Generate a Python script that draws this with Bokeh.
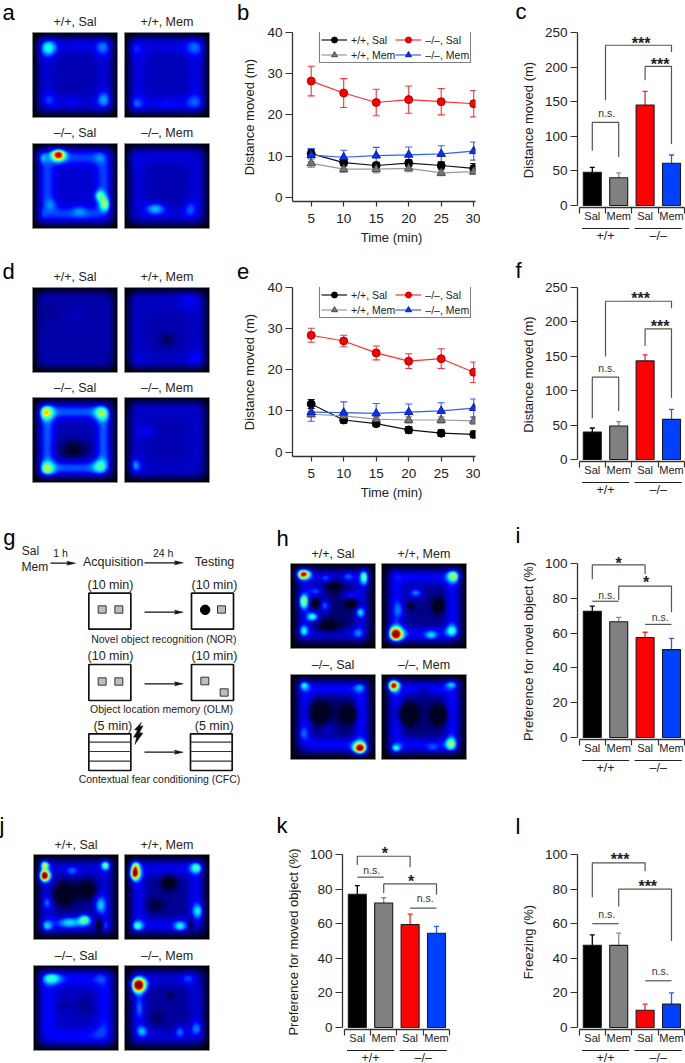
import numpy as np
from bokeh.embed import file_html
from bokeh.resources import INLINE
from bokeh.core.properties import value
from bokeh.layouts import column, row
from bokeh.models import (FixedTicker, LinearAxis, LinearColorMapper, Range1d, Whisker, TeeHead,
                          ColumnDataSource, Legend, LegendItem)
from bokeh.plotting import figure

FONT = "Liberation Sans"
INK = "#222222"
AXIS = "#333333"

# ---------- line chart data ----------
TIME = [5, 10, 15, 20, 25, 30]
B_WT_SAL = [10.6, 8.4, 7.7, 8.3, 7.7, 7.0]
B_WT_SAL_E = [1.0, 0.8, 0.8, 0.8, 0.9, 1.2]
B_WT_MEM = [8.2, 6.8, 6.8, 7.0, 5.9, 6.2]
B_WT_MEM_E = [1.0, 0.8, 0.9, 0.8, 0.7, 0.7]
B_KO_SAL = [28.2, 25.3, 23.0, 23.7, 23.2, 22.7]
B_KO_SAL_E = [3.6, 3.5, 3.2, 3.3, 3.2, 3.2]
B_KO_MEM = [10.2, 9.7, 10.1, 10.3, 10.5, 11.2]
B_KO_MEM_E = [1.6, 1.7, 2.0, 1.9, 2.0, 2.2]

E_WT_SAL = [11.7, 7.8, 6.9, 5.4, 4.6, 4.3]
E_WT_SAL_E = [1.1, 0.8, 0.6, 0.8, 0.8, 0.8]
E_WT_MEM = [9.2, 8.8, 8.0, 7.8, 7.8, 7.6]
E_WT_MEM_E = [0.7, 0.7, 0.7, 0.8, 0.8, 0.9]
E_KO_SAL = [28.4, 27.0, 24.1, 22.1, 22.7, 19.4]
E_KO_SAL_E = [1.7, 1.4, 1.7, 1.8, 2.4, 2.5]
E_KO_MEM = [9.7, 9.6, 9.4, 9.7, 10.0, 10.7]
E_KO_MEM_E = [2.2, 2.6, 2.4, 2.0, 2.0, 2.2]

# ---------- bar chart data ----------
BAR_LABELS = ["Sal", "Mem", "Sal", "Mem"]
GROUP_LABELS = ["+/+", "–/–"]
C_VALUES = [48, 40, 145, 61]
C_TOPS = [55, 47, 165, 73]
F_VALUES = [40, 48.7, 143.3, 58.4]
F_TOPS = [45.8, 55, 152, 72.9]
I_VALUES = [72.5, 66.5, 57.5, 50.5]
I_TOPS = [75.5, 69, 60.5, 57]
K_VALUES = [77, 72, 59.5, 54.5]
K_TOPS = [82, 75, 65.5, 58.5]
L_VALUES = [47.5, 47.5, 10, 13.5]
L_TOPS = [53.5, 54.5, 13.5, 20]

# brackets: x (bar units) and y (axis units) polylines, then notes (x, y, text)
C_BRACKETS = [([1.0, 1.0, 3.5, 3.5], [152, 231.6, 231.6, 222]),
              ([2.5, 2.5, 3.5, 3.5], [181, 201, 201, 89]),
              ([0.5, 0.5, 1.5, 1.5], [79, 120, 120, 70])]
C_NOTES = [(2.35, 239, "***"), (3.07, 208, "***"), (1.05, 133, "n.s.")]
F_BRACKETS = [([1.0, 1.0, 3.5, 3.5], [149.6, 230, 230, 220]),
              ([2.5, 2.5, 3.5, 3.5], [165, 190, 190, 89.8]),
              ([0.5, 0.5, 1.5, 1.5], [60, 119.7, 119.7, 70.5])]
F_NOTES = [(2.33, 239, "***"), (3.07, 198, "***"), (1.05, 133.7, "n.s.")]
I_BRACKETS = [([0.5, 0.5, 2.5, 2.5], [90.9, 99.2, 99.2, 94]),
              ([1.5, 1.5, 3.5, 3.5], [79, 87, 87, 72]),
              ([0.5, 1.5], [78.3, 78.3]),
              ([2.5, 3.5], [65, 65])]
I_NOTES = [(1.5, 102, "*"), (2.54, 90.8, "*"), (1.05, 82, "n.s."), (3.07, 69, "n.s.")]
K_BRACKETS = [([0.5, 0.5, 2.5, 2.5], [94, 99, 99, 92.7]),
              ([1.5, 1.5, 3.5, 3.5], [77.8, 83, 83, 76.8]),
              ([0.5, 1.5], [86.9, 86.9]),
              ([2.5, 3.5], [69, 69])]
K_NOTES = [(1.54, 102.3, "*"), (2.54, 86.3, "*"), (1.05, 91, "n.s."), (3.07, 74.7, "n.s.")]
L_BRACKETS = [([0.5, 0.5, 2.5, 2.5], [75.3, 95.2, 95.2, 90.3]),
              ([1.5, 1.5, 3.5, 3.5], [69.9, 80, 80, 50]),
              ([0.5, 1.5], [60, 60]),
              ([2.5, 3.5], [27, 27])]
L_NOTES = [(1.55, 98.8, "***"), (2.6, 83, "***"), (1.05, 65.6, "n.s."), (3.07, 32.4, "n.s.")]

BAR_COLORS = ["#000000", "#808080", "#ff0000", "#0040ff"]
ERR_COLORS = ["#000000", "#8c8c8c", "#ff2020", "#2060ff"]

# ---------- occupancy maps: level inside the arena, level of the wall track, hot/cold spots
# spot = (u, v, amount, spread_u, spread_v) read from each map
HEAT_TITLES = ["+/+, Sal", "+/+, Mem", "–/–, Sal", "–/–, Mem"]
A_MAPS = [
    (.20, .04, [(.18, .18, .30, .07, .07), (.83, .17, .17, .07, .07), (.19, .80, .11, .06, .06),
                (.47, .80, .05, .07, .05), (.84, .80, .20, .06, .07), (.55, .15, .04, .08, .05)]),
    (.21, .05, [(.12, .18, .09, .06, .07), (.83, .17, .14, .08, .07), (.12, .85, .15, .07, .06),
                (.83, .83, .13, .08, .07), (.50, .85, .05, .1, .05)]),
    (.24, .11, [(.30, .13, .62, .055, .05), (.10, .16, .18, .05, .05), (.80, .16, .08, .05, .05),
                (.79, .62, .26, .04, .045), (.85, .72, .30, .04, .055), (.22, .72, .08, .05, .05),
                (.55, .80, .08, .06, .05), (.10, .85, .08, .05, .05)]),
    (.20, .05, [(.36, .77, .22, .08, .05), (.77, .78, .13, .05, .07), (.10, .18, .05, .06, .06)]),
]
D_MAPS = [
    (.19, .00, [(.20, .30, -.03, .1, .08), (.52, .33, .03, .06, .06)]),
    (.20, .02, [(.75, .15, .07, .09, .09), (.85, .85, .09, .08, .08), (.15, .87, .05, .08, .07),
                (.50, .62, -.10, .07, .06)]),
    (.20, .17, [(.15, .17, .42, .06, .06), (.82, .18, .30, .06, .06), (.16, .85, .36, .06, .06),
                (.80, .82, .22, .06, .06), (.48, .62, -.17, .12, .08)]),
    (.20, .03, [(.27, .40, .08, .07, .05), (.12, .81, .20, .05, .06)]),
]
H_MAPS = [
    (.12, .12, [(.14, .12, .80, .06, .045), (.87, .15, .42, .04, .07), (.15, .45, .42, .04, .06),
                (.26, .63, .38, .05, .04), (.40, .50, .25, .04, .06), (.30, .33, .22, .06, .04),
                (.15, .80, .30, .04, .05), (.82, .58, .25, .04, .04), (.70, .38, .20, .06, .04),
                (.80, .83, .18, .05, .05), (.68, .15, .14, .05, .04), (.42, .18, .14, .05, .04),
                (.28, .47, -.25, .035, .035), (.72, .47, -.25, .045, .04), (.50, .25, -.17, .07, .05),
                (.45, .75, -.17, .10, .05)]),
    (.15, .14, [(.85, .14, .45, .055, .055), (.16, .84, .80, .06, .06), (.40, .35, .25, .06, .04),
                (.16, .13, .08, .05, .05), (.58, .85, .20, .05, .04), (.83, .80, .28, .05, .05),
                (.20, .55, .12, .05, .07), (.34, .51, -.15, .03, .03), (.67, .50, -.25, .05, .06)]),
    (.13, .17, [(.15, .12, .32, .045, .045), (.82, .15, .18, .05, .04), (.82, .88, .80, .055, .055),
                (.45, .65, .10, .06, .05), (.14, .70, .10, .04, .05), (.33, .45, -.28, .085, .08),
                (.68, .47, -.28, .065, .07)]),
    (.13, .17, [(.13, .12, .80, .05, .05), (.83, .11, .27, .055, .04), (.82, .83, .38, .045, .055),
                (.16, .88, .32, .045, .04), (.60, .88, .10, .05, .04), (.30, .47, -.28, .08, .08),
                (.68, .48, -.28, .065, .07), (.50, .20, -.10, .05, .03), (.24, .17, -.05, .03, .03)]),
]
J_MAPS = [
    (.15, .10, [(.12, .25, .85, .045, .045), (.12, .12, .55, .04, .04), (.85, .12, .42, .04, .045),
                (.45, .20, .15, .05, .04), (.15, .57, .14, .04, .05), (.15, .85, .26, .05, .05),
                (.42, .80, .24, .10, .05), (.60, .77, .36, .05, .045), (.78, .60, .24, .05, .08),
                (.85, .85, .14, .04, .05), (.35, .47, -.30, .08, .08), (.62, .42, -.20, .08, .07),
                (.77, .83, -.28, .03, .06)]),
    (.16, .12, [(.11, .22, .80, .045, .055), (.12, .12, .38, .04, .04), (.85, .15, .34, .055, .05),
                (.14, .85, .34, .05, .045), (.65, .85, .24, .05, .045), (.87, .67, .24, .05, .06),
                (.52, .33, -.22, .06, .06), (.35, .60, -.10, .08, .06), (.78, .82, -.22, .02, .06)]),
    (.22, .08, [(.20, .15, .28, .08, .05), (.80, .15, .08, .06, .05), (.80, .80, .06, .08, .08),
                (.35, .47, -.06, .05, .03), (.60, .47, -.07, .08, .08)]),
    (.17, .07, [(.16, .23, .85, .06, .06), (.17, .50, .14, .04, .10), (.20, .78, .22, .05, .05),
                (.65, .78, .17, .04, .05), (.85, .75, .17, .05, .06), (.75, .15, .12, .06, .05),
                (.54, .35, -.10, .03, .03), (.38, .62, -.07, .05, .05)]),
]

STOPS = [(0, (0, 0, 0)), (.15, (0, 0, 140)), (.30, (0, 0, 255)), (.50, (0, 255, 255)),
         (.70, (255, 255, 0)), (.85, (255, 0, 0)), (1, (120, 0, 0))]


def make_palette():
    t = np.linspace(0, 1, 256)
    xs = [s[0] for s in STOPS]
    chans = [np.interp(t, xs, [s[1][i] for s in STOPS]).astype(int) for i in range(3)]
    return ["#%02x%02x%02x" % (r, g, b) for r, g, b in zip(*chans)]


MAPPER = LinearColorMapper(palette=make_palette(), low=0, high=1)


def occupancy(spec, n=170):
    base, ridge, spots = spec
    v, u = np.mgrid[0:1:n * 1j, 0:1:n * 1j]
    x, y = np.abs(u - .5), np.abs(v - .5)
    r = (x ** 6 + y ** 6) ** (1 / 6)
    out = (x ** 10 + y ** 10) ** (1 / 10)
    field = base + ridge * np.exp(-((r - .33) / .085) ** 2)
    for cu, cv, a, su, sv in spots:
        field = field + a * np.exp(-((u - cu) / su) ** 2 / 2 - ((v - cv) / sv) ** 2 / 2)
    mask = np.clip((.5 - out) / .11, 0, 1) ** .75
    return np.clip(field, .04, 1) * mask


def put_text(p, x, y, text, size, color=INK, align="center", baseline="middle", style="normal", yoff=0):
    p.text([x], [y], text=[text], text_font=value(FONT), text_font_size=size, text_color=color,
           text_align=align, text_baseline=baseline, text_font_style=style, y_offset=yoff, level="overlay")


def put_letter(p, x, y, letter):
    put_text(p, x, y, letter, "22px", "#000000", "left", "middle", yoff=-6.5)


def blank_tile(w, h):
    p = figure(width=w, height=h, x_range=Range1d(0, w), y_range=Range1d(0, h), output_backend="svg",
               toolbar_location=None, min_border=0, outline_line_color=None, background_fill_color=None,
               border_fill_color=None, frame_align=False)
    p.axis.visible = False
    p.grid.visible = False
    return p


def heat_tile(w, h, letter, letter_xy, maps, lefts, tops, title_ys, side=85):
    p = blank_tile(w, h)
    put_letter(p, letter_xy[0], h - letter_xy[1], letter)
    k = 0
    for r in range(2):
        for c in range(2):
            arr = occupancy(maps[k])[::-1]
            p.image(image=[arr], x=lefts[c], y=h - tops[r] - side, dw=side, dh=side, color_mapper=MAPPER)
            p.quad(left=[lefts[c]], right=[lefts[c] + side], top=[h - tops[r]], bottom=[h - tops[r] - side],
                   fill_color=None, line_color="#8a8a8a", line_width=0.8, level="overlay")
            put_text(p, lefts[c] + side / 2, h - title_ys[r], HEAT_TITLES[k], "12.5px")
            k += 1
    return p


def style_axis(ax, tick_out=7):
    ax.axis_line_color = AXIS
    ax.axis_line_width = 1.3
    ax.major_tick_line_color = AXIS
    ax.major_tick_line_width = 1.2
    ax.major_tick_in = 0
    ax.major_tick_out = tick_out
    ax.minor_tick_line_color = None
    ax.major_label_text_font = FONT
    ax.major_label_text_font_size = "13.5px"
    ax.major_label_text_color = INK
    ax.axis_label_text_font = FONT
    ax.axis_label_text_font_size = "13px"
    ax.axis_label_text_font_style = "normal"
    ax.axis_label_text_color = INK


def line_tile(x0, y0, w, h, letter, letter_base, y40, y00, y_axis, series, leg_y):
    left, right = 292, 475
    unit = 6.5
    s = (y00 - y40) / 40
    xmin = 5 - (310.7 - left) / unit
    xmax = xmin + (right - left) / unit
    p = figure(width=w, height=h, x_range=Range1d(xmin, xmax), y_range=Range1d(-(y_axis - y00) / s, 40),
               output_backend="svg", toolbar_location=None, outline_line_color=None, frame_align=False,
               min_border_left=left - x0, min_border_right=x0 + w - right, min_border_top=int(round(y40 - y0)),
               min_border_bottom=int(round(y0 + h - y_axis)), x_axis_location="below")
    p.grid.visible = False
    style_axis(p.yaxis[0])
    style_axis(p.xaxis[0], 5)
    p.yaxis[0].ticker = FixedTicker(ticks=[0, 10, 20, 30, 40])
    p.xaxis[0].ticker = FixedTicker(ticks=TIME)
    p.xaxis[0].major_label_standoff = 7
    p.yaxis[0].major_label_standoff = 3
    p.yaxis[0].axis_label = "Distance moved (m)"
    p.yaxis[0].axis_label_standoff = 7
    px = lambda a: xmin + (a - left) / unit
    py = lambda a: (y00 - a) / s
    put_letter(p, px(236.5), py(letter_base), letter)
    put_text(p, px(391), py(y_axis + 36), "Time (min)", "13px")
    items = []
    for label, ys, es, lc, mc, ec, mark in series:
        src = ColumnDataSource(dict(x=TIME, lo=[a - b for a, b in zip(ys, es)], up=[a + b for a, b in zip(ys, es)]))
        p.add_layout(Whisker(source=src, base="x", lower="lo", upper="up", line_color=lc, line_width=1.1,
                             upper_head=TeeHead(size=7, line_color=lc, line_width=1.1),
                             lower_head=TeeHead(size=7, line_color=lc, line_width=1.1)))
        ln = p.line(TIME, ys, line_color=lc, line_width=1.2)
        mk = p.scatter(TIME, ys, marker=mark, size=8 if mark == "circle" else 8.5, fill_color=mc, line_color=ec, line_width=0.9)
        items.append((label, [ln, mk]))
    # columns of the key: left column wild type, right column knockout
    leg = Legend(items=[LegendItem(label=value(a), renderers=b) for a, b in items], ncols=2, nrows=2,
                 location=(27, y_axis - leg_y - 30), spacing=0, padding=(1, 0), margin=0, glyph_width=26, glyph_height=15,
                 label_standoff=4, label_text_font=FONT, label_text_font_size="10.5px", label_text_color=INK,
                 label_height=12, border_line_color="#000000", border_line_width=1.4, background_fill_alpha=1)
    p.add_layout(leg)
    return p


def bar_tile(x0, y0, w, h, letter, letter_xy, frame_left, y_top, y_zero, ymax, ticks, values, tops, ylabel, brackets, notes):
    unit = 26.4
    s = (y_zero - y_top) / ymax
    frame_w = 108
    bottom_px = y_zero + 2
    xmin = -1.6 / unit
    xmax = xmin + frame_w / unit
    p = figure(width=w, height=h, x_range=Range1d(xmin, xmax), y_range=Range1d(-2 / s, ymax),
               output_backend="svg", toolbar_location=None, outline_line_color=None, frame_align=False,
               min_border_left=frame_left - x0, min_border_right=x0 + w - frame_left - frame_w,
               min_border_top=int(round(y_top - y0)), min_border_bottom=int(round(y0 + h - bottom_px)),
               frame_height=int(round(bottom_px - y_top)), frame_width=frame_w)
    p.grid.visible = False
    p.xaxis.visible = False
    yax = p.yaxis[0]
    style_axis(yax)
    yax.ticker = FixedTicker(ticks=ticks)
    yax.bounds = (0, ymax)
    yax.major_label_standoff = 3
    yax.axis_label = ylabel
    yax.axis_label_standoff = 6
    ax1 = LinearAxis(ticker=FixedTicker(ticks=[.5, 1.5, 2.5, 3.5], minor_ticks=[0, 1, 2, 3, 4]),
                     major_label_overrides={i + .5: t for i, t in enumerate(BAR_LABELS)})
    style_axis(ax1, 0)
    ax1.bounds = (0, 4)
    ax1.minor_tick_line_color = AXIS
    ax1.minor_tick_line_width = 1.2
    ax1.minor_tick_in = 0
    ax1.minor_tick_out = 6
    ax1.major_tick_line_color = None
    ax1.major_label_text_font_size = "11px"
    ax1.major_label_standoff = -4
    p.add_layout(ax1, "below")
    ax2 = LinearAxis(ticker=FixedTicker(ticks=[1.0, 3.0], minor_ticks=[]),
                     major_label_overrides={1.0: GROUP_LABELS[0], 3.0: GROUP_LABELS[1]})
    style_axis(ax2, 0)
    ax2.axis_line_color = None
    ax2.major_tick_line_color = None
    ax2.major_label_text_font_size = "12.5px"
    ax2.major_label_standoff = 4
    p.add_layout(ax2, "below")
    xs = [.5, 1.5, 2.5, 3.5]
    p.vbar(x=xs, width=18 / unit, bottom=0, top=values, fill_color=BAR_COLORS, line_color="#1a1a1a", line_width=1.1)
    for xi, v, t, c in zip(xs, values, tops, ERR_COLORS):
        src = ColumnDataSource(dict(x=[xi], lo=[v], up=[t]))
        p.add_layout(Whisker(source=src, base="x", lower="lo", upper="up", line_color=c, line_width=1.3,
                             upper_head=TeeHead(size=5, line_color=c, line_width=1.3), lower_head=None))
    for bx, by in brackets:
        p.line(bx, by, line_color="#555555", line_width=1.2, level="overlay")
    for nx, ny, txt in notes:
        if "*" in txt:
            put_text(p, nx, ny, txt, "16px", "#222222", yoff=3, style="bold")
        else:
            put_text(p, nx, ny, txt, "10.5px", "#333333")
    py = lambda a: (y_zero - a) / s
    # rules under the genotype groups
    rule = y_zero + 23
    p.line([.11, 1.9], [py(rule), py(rule)], line_color="#222222", line_width=1.1, level="overlay")
    p.line([2.1, 3.89], [py(rule), py(rule)], line_color="#222222", line_width=1.1, level="overlay")
    put_letter(p, xmin + (letter_xy[0] - frame_left) / unit, py(letter_xy[1]), letter)
    return p


# ---------- protocol sketch (units: one third of a page pixel) ----------
ARROWS = [(150, 225, 128), (432, 548, 127), (432, 548, 275), (432, 548, 490), (432, 548, 695)]
BOXES = [(265, 391, 218, 326), (573, 699, 218, 326), (265, 391, 432, 540), (573, 699, 432, 540),
         (265, 391, 640, 750), (570, 695, 640, 750)]
SQUARES = [(293, 317, 256, 278), (343, 367, 256, 278), (651, 675, 256, 278), (293, 317, 472, 494),
           (343, 367, 472, 494), (601, 625, 470, 493), (659, 683, 505, 527)]
STRIPES = [(265, 391, 665), (265, 391, 693), (265, 391, 722), (570, 695, 665), (570, 695, 693), (570, 695, 722)]
BOLT_X = [423, 402, 411, 399, 408, 403, 427, 417, 428, 418]
BOLT_Y = [605, 628, 630, 650, 650, 672, 638, 636, 616, 618]
SKETCH_TEXT = [(90, 92, "Sal", "12px"), (103, 140, "Mem", "12px"), (180, 98, "1 h", "10.5px"), (338, 125, "Acquisition", "12.5px"),
               (488, 98, "24 h", "10.5px"), (642, 125, "Testing", "12.5px"), (330, 192, "(10 min)", "12.5px"),
               (642, 192, "(10 min)", "12.5px"), (490, 354, "Novel object recognition (NOR)", "10.5px"),
               (330, 406, "(10 min)", "12.5px"), (642, 406, "(10 min)", "12.5px"),
               (483, 564, "Object location memory (OLM)", "10.5px"), (337, 616, "(5 min)", "12.5px"),
               (641, 616, "(5 min)", "12.5px"), (477, 775, "Contextual fear conditioning (CFC)", "10.5px")]


def sketch_tile(w, h):
    p = figure(width=w, height=h, x_range=Range1d(0, w * 3), y_range=Range1d(h * 3, 0), output_backend="svg",
               toolbar_location=None, min_border=0, outline_line_color=None, frame_align=False)
    p.axis.visible = False
    p.grid.visible = False
    put_letter(p, 8, 69, "g")
    for a, b, yy in ARROWS:
        p.line([a, b - 15], [yy, yy], line_color="#111111", line_width=1.1)
        p.patch([b - 26, b, b - 26, b - 22], [yy - 6, yy, yy + 6, yy], fill_color="#111111", line_color="#111111", line_width=.5)
    for l, r, t, b in BOXES:
        p.quad(left=[l], right=[r], top=[t], bottom=[b], fill_color=None, line_color="#111111", line_width=1.7)
    for l, r, t, b in SQUARES:
        p.quad(left=[l], right=[r], top=[t], bottom=[b], fill_color="#bdbdbd", line_color="#222222", line_width=.9)
    p.scatter([614], [268], size=9.5, marker="circle", fill_color="#000000", line_color="#000000")
    for l, r, yy in STRIPES:
        p.line([l, r], [yy, yy], line_color="#333333", line_width=1.1)
    p.patch(BOLT_X, BOLT_Y, fill_color="#111111", line_color="#111111", line_width=.4)
    for x, y, t, sz in SKETCH_TEXT:
        put_text(p, x, y, t, sz)
    return p


def series_set(ws, wse, wm, wme, ks, kse, km, kme):
    return [("+/+, Sal", ws, wse, "#111111", "#000000", "#000000", "circle"),
            ("+/+, Mem", wm, wme, "#999999", "#777777", "#444444", "triangle"),
            ("–/–, Sal", ks, kse, "#ff3030", "#ff0000", "#a00000", "circle"),
            ("–/–, Mem", km, kme, "#3060ff", "#0a30ff", "#001a90", "triangle")]


LEFT_2 = [32, 124]
a = heat_tile(230, 256, "a", (2, 18), A_MAPS, LEFT_2, [32, 143], [21, 132])
b = line_tile(230, 0, 250, 256, "b", 18, 31.7, 196.7, 201,
              series_set(B_WT_SAL, B_WT_SAL_E, B_WT_MEM, B_WT_MEM_E, B_KO_SAL, B_KO_SAL_E, B_KO_MEM, B_KO_MEM_E), 33)
c = bar_tile(480, 0, 205, 256, "c", (515, 18), 577, 32, 204.7, 250, [0, 50, 100, 150, 200, 250],
             C_VALUES, C_TOPS, "Distance moved (m)", C_BRACKETS, C_NOTES)
d = heat_tile(230, 264, "d", (2, 21), D_MAPS, LEFT_2, [31, 141], [20, 131])
e = line_tile(230, 256, 250, 264, "e", 277, 286.7, 451.3, 455.7,
              series_set(E_WT_SAL, E_WT_SAL_E, E_WT_MEM, E_WT_MEM_E, E_KO_SAL, E_KO_SAL_E, E_KO_MEM, E_KO_MEM_E), 287.7)
f = bar_tile(480, 256, 205, 264, "f", (515, 276), 577, 287, 459.5, 250, [0, 50, 100, 150, 200, 250],
             F_VALUES, F_TOPS, "Distance moved (m)", F_BRACKETS, F_NOTES)
g = sketch_tile(270, 270)
h = heat_tile(210, 270, "h", (6, 24), H_MAPS, [20, 111], [43, 154], [33, 144])
i = bar_tile(480, 520, 205, 270, "i", (515, 542), 577, 563, 736.7, 100, [0, 20, 40, 60, 80, 100],
             I_VALUES, I_TOPS, "Preference for novel object (%)", I_BRACKETS, I_NOTES)
j = heat_tile(270, 273, "j", (-1, 41), J_MAPS, [33, 124], [64, 175], [54, 165])
k = bar_tile(270, 790, 210, 273, "k", (276, 832), 342, 854, 1026.7, 100, [0, 20, 40, 60, 80, 100],
             K_VALUES, K_TOPS, "Preference for moved object (%)", K_BRACKETS, K_NOTES)
l = bar_tile(480, 790, 205, 273, "l", (515, 832), 577, 854, 1027, 100, [0, 20, 40, 60, 80, 100],
             L_VALUES, L_TOPS, "Freezing (%)", L_BRACKETS, L_NOTES)

page = column(row(a, b, c), row(d, e, f), row(g, h, i), row(j, k, l))
open("out.html", "w").write(file_html(page, INLINE))
